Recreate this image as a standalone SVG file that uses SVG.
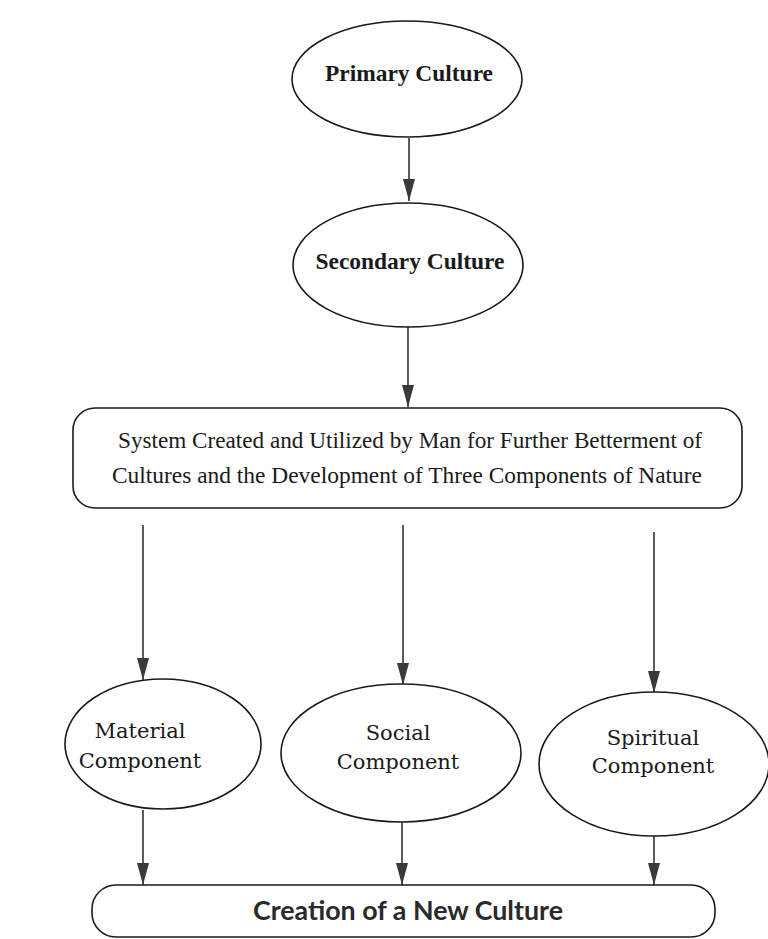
<svg xmlns="http://www.w3.org/2000/svg" width="768" height="939" viewBox="0 0 768 939">
  <style>
    .shape { fill: #ffffff; stroke: #1a1a1a; stroke-width: 1.6; }
    .edge { stroke: #333333; stroke-width: 1.6; fill: none; marker-end: url(#arrow); }
    .title { font-family: "Liberation Serif", "Times New Roman", serif; font-weight: bold; font-size: 24px; fill: #1a1a1a; text-anchor: middle; }
    .body { font-family: "Liberation Serif", "Times New Roman", serif; font-size: 23px; fill: #1a1a1a; text-anchor: middle; }
    .comp { font-family: "DejaVu Serif", "Liberation Serif", serif; font-size: 21px; fill: #1a1a1a; text-anchor: middle; }
    .result { font-family: Lato, "Open Sans", sans-serif; font-weight: bold; font-size: 26px; fill: #2a2a2a; text-anchor: middle; }
  </style>
  <defs>
    <!-- narrow filled arrowhead; tip sits on the path end -->
    <marker id="arrow" viewBox="0 0 22 12" refX="22" refY="6" markerWidth="22" markerHeight="12" markerUnits="userSpaceOnUse" orient="auto">
      <path d="M0,0 L22,6 L0,12 Z" fill="#3a3a3a"/>
    </marker>
  </defs>
  <rect width="768" height="939" fill="#ffffff"/>

  <!-- connectors -->
  <g id="connectors">
    <line class="edge" x1="409" y1="138" x2="409" y2="201"/>
    <line class="edge" x1="408" y1="327" x2="408" y2="407"/>
    <line class="edge" x1="143" y1="525" x2="143" y2="680"/>
    <line class="edge" x1="403" y1="525" x2="403" y2="685"/>
    <line class="edge" x1="654" y1="532" x2="654" y2="693"/>
    <line class="edge" x1="143" y1="810" x2="143" y2="885"/>
    <line class="edge" x1="402" y1="822" x2="402" y2="885"/>
    <line class="edge" x1="654" y1="836" x2="654" y2="885"/>
  </g>

  <g id="primary-culture">
    <ellipse class="shape" cx="407" cy="79" rx="115" ry="58"/>
    <text class="title" x="409" y="81" textLength="168" lengthAdjust="spacingAndGlyphs">Primary Culture</text>
  </g>

  <g id="secondary-culture">
    <ellipse class="shape" cx="408" cy="265" rx="115" ry="62"/>
    <text class="title" x="410" y="269" textLength="189" lengthAdjust="spacingAndGlyphs">Secondary Culture</text>
  </g>

  <g id="system">
    <rect class="shape" x="73" y="408" width="669" height="100" rx="22" ry="22"/>
    <text class="body" x="410" y="448" textLength="584" lengthAdjust="spacingAndGlyphs">System Created and Utilized by Man for Further Betterment of</text>
    <text class="body" x="407" y="483" textLength="590" lengthAdjust="spacingAndGlyphs">Cultures and the Development of Three Components of Nature</text>
  </g>

  <g id="material-component">
    <ellipse class="shape" cx="163" cy="744" rx="98" ry="65"/>
    <text class="comp" x="140" y="738">Material</text>
    <text class="comp" x="140" y="768">Component</text>
  </g>

  <g id="social-component">
    <ellipse class="shape" cx="401" cy="753" rx="120" ry="69"/>
    <text class="comp" x="398" y="740">Social</text>
    <text class="comp" x="398" y="769">Component</text>
  </g>

  <g id="spiritual-component">
    <ellipse class="shape" cx="654" cy="764" rx="115" ry="72"/>
    <text class="comp" x="653" y="745">Spiritual</text>
    <text class="comp" x="653" y="773">Component</text>
  </g>

  <g id="new-culture">
    <rect class="shape" x="92" y="885" width="623" height="52" rx="24" ry="24"/>
    <text class="result" x="408" y="920" textLength="310" lengthAdjust="spacingAndGlyphs">Creation of a New Culture</text>
  </g>
</svg>
